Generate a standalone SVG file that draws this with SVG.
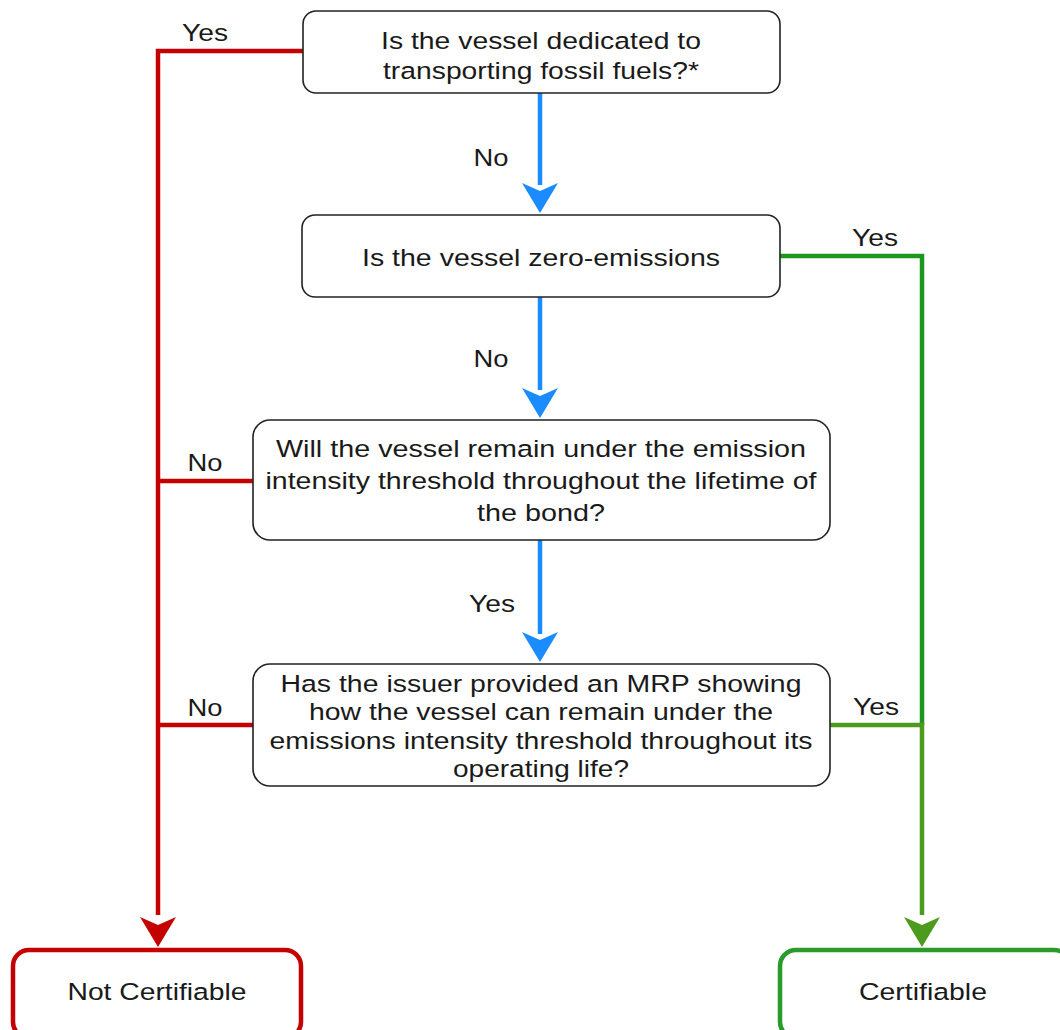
<svg xmlns="http://www.w3.org/2000/svg" width="1060" height="1030" viewBox="0 0 1060 1030">
<style>
text{font-family:"Liberation Sans",Arial,sans-serif;font-size:24.5px;fill:#1a1a1a;text-anchor:middle}
.q{fill:#fff;stroke:#222;stroke-width:1.6}
.red{fill:none;stroke:#c40000;stroke-width:4.5}
.blue{fill:none;stroke:#1a8cff;stroke-width:4.5}
.green{fill:none;stroke:#1c961c;stroke-width:4.5}
.green2{fill:none;stroke:#4c9a1e;stroke-width:4.5}
</style>
<g id="connectors">
<path class="red" d="M303,51 H158 V915"/>
<path d="M140,917 L158,925 L176,917 L158,947 Z" fill="#c40000"/>
<path class="red" d="M253,481 H158"/>
<path class="red" d="M253,725 H158"/>
<path class="blue" d="M540,93 V185"/>
<path d="M522,183 L540,191 L558,183 L540,213 Z" fill="#1a8cff"/>
<path class="blue" d="M540,297 V390"/>
<path d="M522,388 L540,396 L558,388 L540,418 Z" fill="#1a8cff"/>
<path class="blue" d="M540,540 V634"/>
<path d="M522,632 L540,640 L558,632 L540,662 Z" fill="#1a8cff"/>
<path class="green" d="M780,256 H922 V725"/>
<path class="green2" d="M830,725 H922 V915"/>
<path d="M904,917 L922,925 L940,917 L922,947 Z" fill="#4c9a1e"/>
<text x="205" y="41" textLength="46" lengthAdjust="spacingAndGlyphs">Yes</text>
<text x="491" y="166" textLength="35" lengthAdjust="spacingAndGlyphs">No</text>
<text x="491" y="367" textLength="35" lengthAdjust="spacingAndGlyphs">No</text>
<text x="205" y="471" textLength="35" lengthAdjust="spacingAndGlyphs">No</text>
<text x="492" y="612" textLength="46" lengthAdjust="spacingAndGlyphs">Yes</text>
<text x="205" y="716" textLength="35" lengthAdjust="spacingAndGlyphs">No</text>
<text x="875" y="246" textLength="46" lengthAdjust="spacingAndGlyphs">Yes</text>
<text x="876" y="715" textLength="46" lengthAdjust="spacingAndGlyphs">Yes</text>
</g>
<g id="q1">
<rect class="q" x="303" y="11" width="477" height="82" rx="13"/>
<text x="541" y="49" textLength="320" lengthAdjust="spacingAndGlyphs">Is the vessel dedicated to</text>
<text x="541" y="79" textLength="316" lengthAdjust="spacingAndGlyphs">transporting fossil fuels?*</text>
</g>
<g id="q2">
<rect class="q" x="302" y="215" width="478" height="82" rx="13"/>
<text x="541" y="266" textLength="358" lengthAdjust="spacingAndGlyphs">Is the vessel zero-emissions</text>
</g>
<g id="q3">
<rect class="q" x="253" y="420" width="577" height="120" rx="17"/>
<text x="541" y="457" textLength="530" lengthAdjust="spacingAndGlyphs">Will the vessel remain under the emission</text>
<text x="541" y="489" textLength="551" lengthAdjust="spacingAndGlyphs">intensity threshold throughout the lifetime of</text>
<text x="541" y="521" textLength="128" lengthAdjust="spacingAndGlyphs">the bond?</text>
</g>
<g id="q4">
<rect class="q" x="253" y="664" width="577" height="122" rx="17"/>
<text x="541" y="692" textLength="521" lengthAdjust="spacingAndGlyphs">Has the issuer provided an MRP showing</text>
<text x="541" y="720" textLength="464" lengthAdjust="spacingAndGlyphs">how the vessel can remain under the</text>
<text x="541" y="749" textLength="543" lengthAdjust="spacingAndGlyphs">emissions intensity threshold throughout its</text>
<text x="541" y="777" textLength="176" lengthAdjust="spacingAndGlyphs">operating life?</text>
</g>
<g id="notcert">
<rect x="13" y="950" width="288" height="88" rx="16" fill="#fff" stroke="#c40000" stroke-width="4.5"/>
<text x="157" y="1000" textLength="179" lengthAdjust="spacingAndGlyphs">Not Certifiable</text>
</g>
<g id="cert">
<rect x="780" y="950" width="290" height="88" rx="16" fill="#fff" stroke="#2a9a2a" stroke-width="4.5"/>
<text x="923" y="1000" textLength="128" lengthAdjust="spacingAndGlyphs">Certifiable</text>
</g>
</svg>
